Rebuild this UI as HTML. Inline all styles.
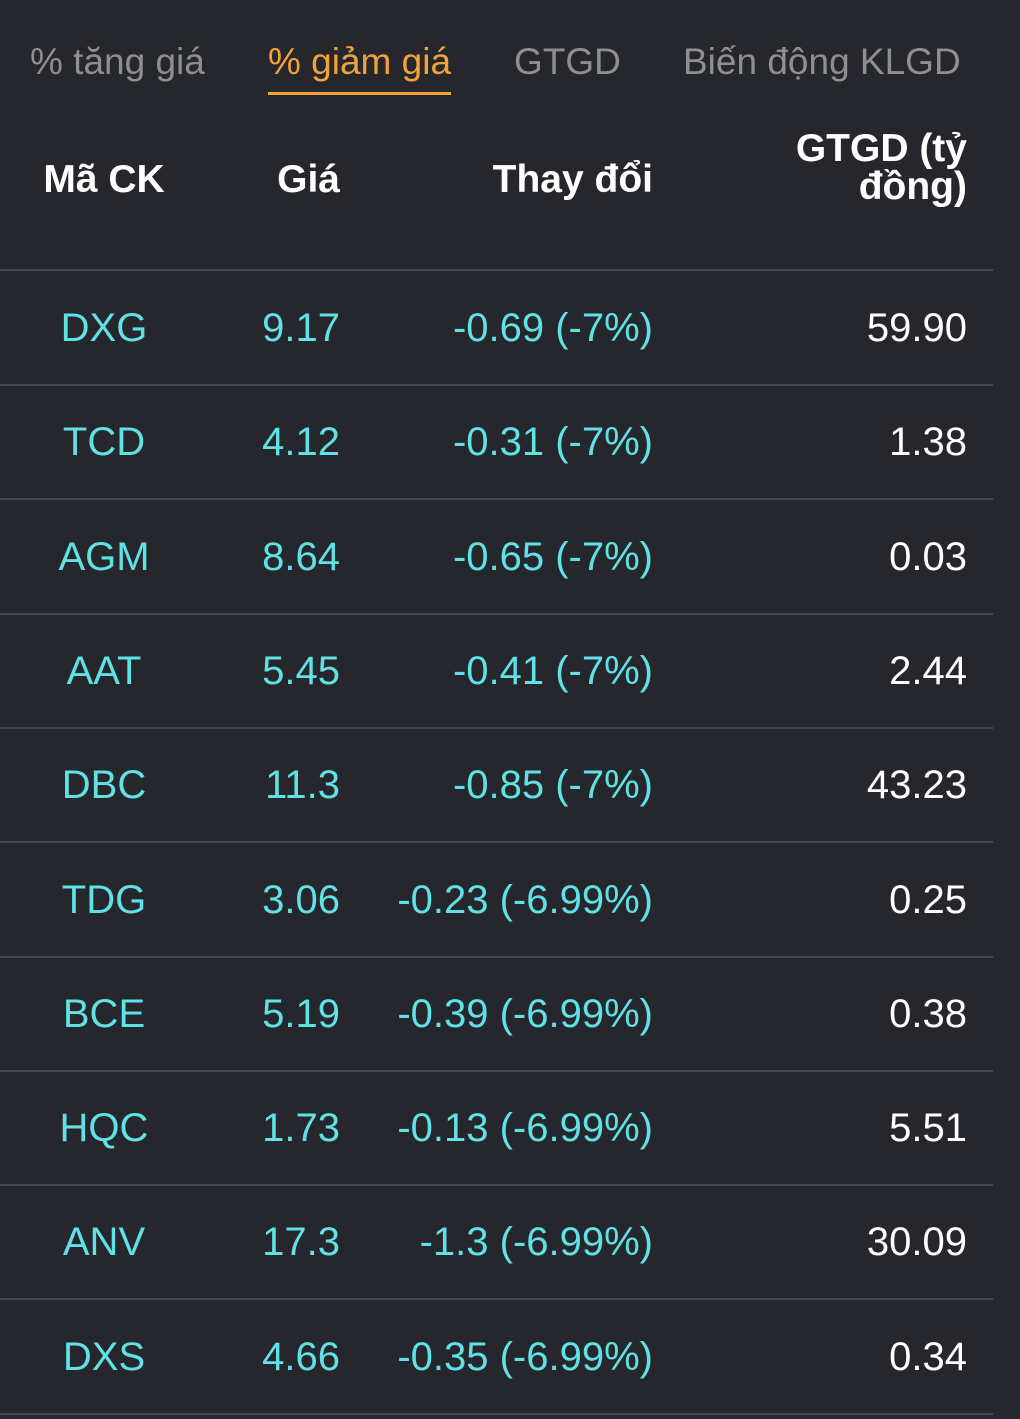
<!DOCTYPE html>
<html><head><meta charset="utf-8"><style>
body{margin:0;background:#26272c;width:1020px;height:1419px;overflow:hidden;font-family:"Liberation Sans",sans-serif;position:relative}
.t{position:absolute;white-space:nowrap}
.tab{top:40px;font-size:37px;color:#8e8f93;line-height:44px}
.h{font-size:39px;font-weight:bold;color:#fff;line-height:38px}
.c{font-size:40px;color:#5fe1e6;line-height:40px}
.w{font-size:40px;color:#fff;line-height:40px}
.ln{position:absolute;left:0;width:993px;height:2px;background:#46474c}
</style></head><body>
<div class="t tab" style="left:30px">% tăng giá</div>
<div class="t tab" style="left:268px;color:#f0a23b">% giảm giá</div>
<div style="position:absolute;left:268px;top:92px;width:183px;height:3px;background:#f0a23b"></div>
<div class="t tab" style="left:514px">GTGD</div>
<div class="t tab" style="left:683px">Biến động KLGD</div>
<div class="t h" style="left:0;width:208px;text-align:center;top:161px">Mã CK</div>
<div class="t h" style="right:680px;top:161px">Giá</div>
<div class="t h" style="right:367px;top:161px">Thay đổi</div>
<div class="t h" style="right:53px;top:130px;text-align:right">GTGD (tỷ<br>đồng)</div>
<div class="ln" style="top:269px"></div>
<div id="rows"></div>
<script>
const codes=["DXG","TCD","AGM","AAT","DBC","TDG","BCE","HQC","ANV","DXS"];
const prices=["9.17","4.12","8.64","5.45","11.3","3.06","5.19","1.73","17.3","4.66"];
const changes=["-0.69 (-7%)","-0.31 (-7%)","-0.65 (-7%)","-0.41 (-7%)","-0.85 (-7%)","-0.23 (-6.99%)","-0.39 (-6.99%)","-0.13 (-6.99%)","-1.3 (-6.99%)","-0.35 (-6.99%)"];
const values=["59.90","1.38","0.03","2.44","43.23","0.25","0.38","5.51","30.09","0.34"];
const root=document.getElementById('rows');
codes.forEach((c,i)=>{
  const top=270+i*114.3;
  const mk=(cls,style,txt)=>{const d=document.createElement('div');d.className='t '+cls;d.style.cssText=style+';top:'+(top+38)+'px';d.textContent=txt;root.appendChild(d);return d;};
  let a=mk('c','left:0;width:208px;text-align:center',c);
  
  
  let b=mk('c','right:680px',prices[i]);
  
  
  let e=mk('c','right:367px',changes[i]);
  
  
  let f=mk('w','right:53px',values[i]);
  
  
  const l=document.createElement('div');l.className='ln';l.style.top=(top+114)+'px';
  
  
  root.appendChild(l);
});
</script>
</body></html>
